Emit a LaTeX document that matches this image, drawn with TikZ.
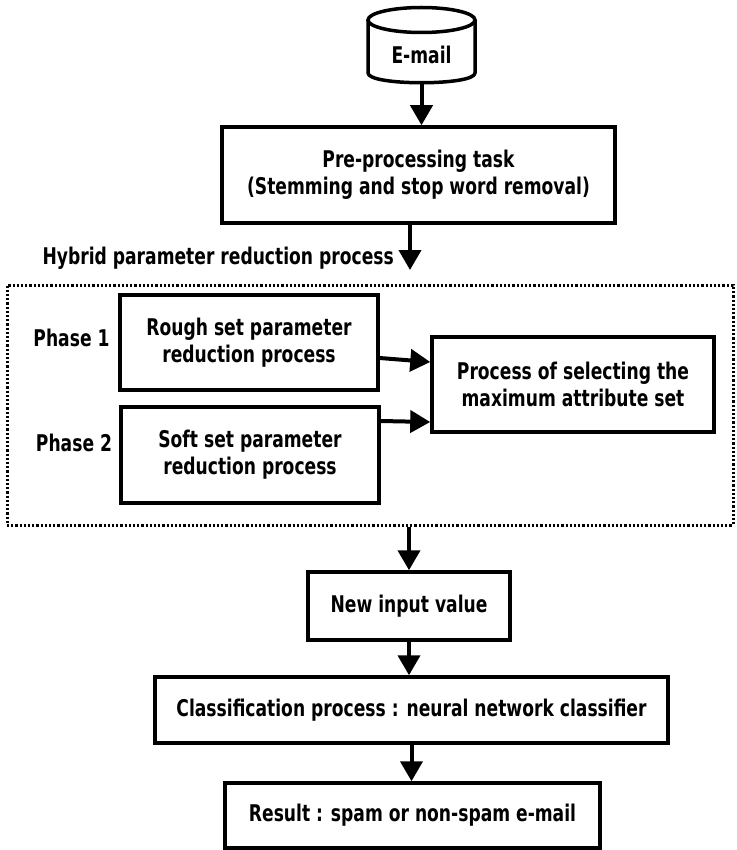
\documentclass[tikz,border=0pt]{standalone}
\usepackage{fontspec}
\setmainfont[FakeStretch=0.745]{DejaVu Sans}
\usetikzlibrary{arrows.meta,positioning}

\begin{document}
\begin{tikzpicture}[x=1pt,y=-1pt,
    txt/.style={font=\bfseries\fontsize{23}{27}\selectfont, align=center, inner sep=0pt},
    box/.style={txt, draw, line width=3.5pt},
    arr/.style={line width=4pt, -{Triangle[length=20pt,width=22pt]}}]
        \useasboundingbox (0,0) rectangle (736,850);
        \node[txt, minimum width=107, minimum height=56] (email) at (421.5,55) {E-mail};
        \draw[line width=3.5pt] (421.5,20) ellipse [x radius=53.5pt, y radius=12.5pt];
        \draw[line width=3.5pt, line join=round] (368,20) -- (368,73) .. controls (368,86) and (475,86) .. (475,73) -- (475,20);
        \node[box, minimum width=393, minimum height=96] (prep) at (418.5,175) {Pre-processing task\\(Stemming and stop word removal)};
        \coordinate (hybin) at (410,270);
        \node[txt, anchor=east] (hyblbl) at (394,258) {Hybrid parameter reduction process};
        \node[draw, line width=3pt, dash pattern=on 2.2pt off 2pt, minimum width=726, minimum height=240] (hybrid) at (370,405) {};
        \node[box, minimum width=258, minimum height=95] (rough) at (249,342.5) {Rough set parameter\\reduction process};
        \node[box, minimum width=258, minimum height=96] (soft) at (250,455) {Soft set parameter\\reduction process};
        \node[box, minimum width=282, minimum height=95] (select) at (573,384.5) {Process of selecting the\\maximum attribute set};
        \node[txt] (ph1) at (71.5,338) {Phase 1};
        \node[txt] (ph2) at (74,443) {Phase 2};
        \node[box, minimum width=202, minimum height=68] (newin) at (409,606) {New input value};
        \node[box, minimum width=513, minimum height=66] (classify) at (411.5,710) {Classification process : neural network classifier};
        \node[box, minimum width=375, minimum height=65] (result) at (412.5,815.5) {Result : spam or non-spam e-mail};
        \draw[arr] (email.south) -- (email.south |- prep.north);
        \draw[arr] (hybin |- prep.south) -- (hybin);
        \draw[arr] ([yshift=-15.5pt]rough.east) -- ([yshift=22.5pt]select.west);
        \draw[arr] ([yshift=34pt]soft.east) -- ([yshift=-37.5pt]select.west);
        \draw[arr] (newin.north |- hybrid.south) -- (newin.north);
        \draw[arr] (newin.south) -- (newin.south |- classify.north);
        \draw[arr] (classify.south) -- (classify.south |- result.north);
      \end{tikzpicture}
\end{document}
